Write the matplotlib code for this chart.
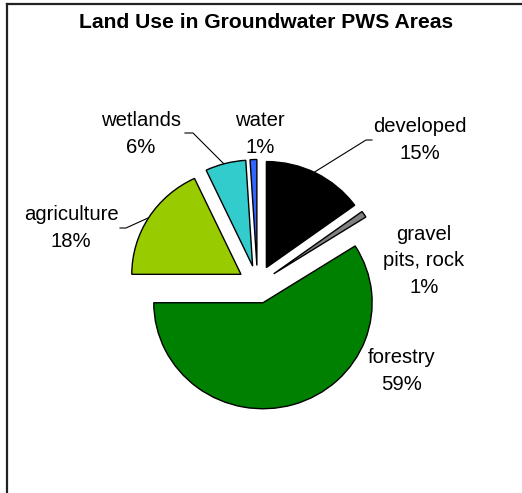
import matplotlib
matplotlib.use("Agg")
import matplotlib.pyplot as plt
from matplotlib.lines import Line2D

plt.rcParams['font.family'] = ['Liberation Sans', 'DejaVu Sans']

title = "Land Use in Groundwater PWS Areas"
categories = ["developed", "gravel\npits, rock", "forestry", "agriculture", "wetlands", "water"]
values = [15, 1, 59, 18, 6, 1]
pct_labels = ["15%", "1%", "59%", "18%", "6%", "1%"]
colors = ["#000000", "#808080", "#008000", "#99CC00", "#33CCCC", "#3366FF"]

W, H = 522, 493
fig = plt.figure(figsize=(W / 100, H / 100), dpi=100)
ax = fig.add_axes([0, 0, 1, 1])
ax.set_xlim(0, W)
ax.set_ylim(H, 0)
ax.axis('off')

# pie in a separate axes, pixel-like coords (y up), slight horizontal stretch
sx = 1.03
pax = fig.add_axes([0, 0, 1, 1])
pax.axis('off')

cx, cy, R = 257.5, H - 284.5, 106
explode = [19] * len(values)
pax.pie(values, colors=colors, startangle=90, counterclock=False,
        center=(cx / sx, cy), radius=R, explode=explode, frame=False,
        wedgeprops=dict(edgecolor='black', linewidth=1.0))
pax.set_aspect('auto')
pax.set_xlim(0, W / sx)
pax.set_ylim(0, H)

# frame (top and left)
ax.add_line(Line2D([6.5, W], [4, 4], color='#222222', lw=1.6))
ax.add_line(Line2D([6.5, 6.5], [4, H], color='#222222', lw=1.6))

ax.text(266, 22, title, ha='center', va='center', fontsize=15.2, fontweight='bold')

fs = 14.6
label_pos = {
    "developed": (420, 140),
    "gravel\npits, rock": (424, 261),
    "forestry": (402, 371),
    "agriculture": (71, 228),
    "wetlands": (141, 134),
    "water": (260, 134),
}
for cat, pct in zip(categories, pct_labels):
    x, y = label_pos[cat]
    ax.text(x, y, cat + "\n" + pct, ha='center', va='center', fontsize=fs,
            linespacing=1.5)

# leader lines
ax.add_line(Line2D([313, 366, 372], [173, 140, 140], color='black', lw=0.8))
ax.add_line(Line2D([185, 193, 225], [133, 133, 165], color='black', lw=0.8))
ax.add_line(Line2D([120, 126, 148], [228, 228, 218], color='black', lw=0.8))

fig.savefig("out.png", dpi=100, facecolor='white')
